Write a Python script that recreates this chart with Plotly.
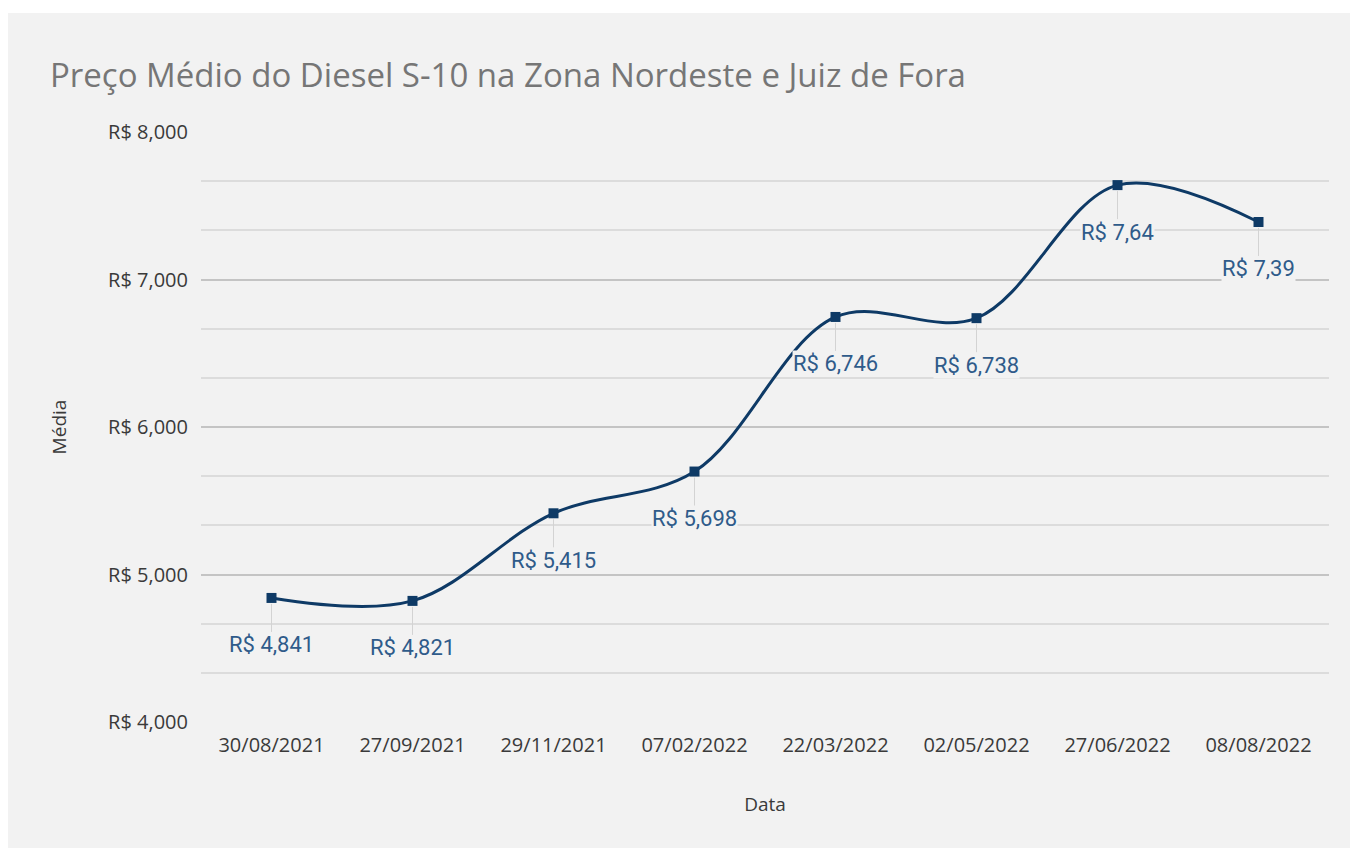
import plotly.graph_objects as go

DATES = ["30/08/2021", "27/09/2021", "29/11/2021", "07/02/2022",
         "22/03/2022", "02/05/2022", "27/06/2022", "08/08/2022"]
PRICES = [4.841, 4.821, 5.415, 5.698, 6.746, 6.738, 7.64, 7.39]
Y_TICKS = [4, 5, 6, 7, 8]

LINE_COLOR = "#0e3a66"
LABEL_COLOR = "#2f5b8a"
PANEL_BG = "#f2f2f2"
TEXT_COLOR = "#3a3a3a"

W, H = 1342, 840
L, R, T, B = 193, 21, 124, 126


def price_label(v):
    s = f"{v:.3f}".rstrip("0").replace(".", ",")
    return f"R$ {s}"


fig = go.Figure()
fig.add_trace(go.Scatter(
    x=DATES, y=PRICES,
    mode="lines+markers",
    line=dict(color=LINE_COLOR, width=3, shape="spline", smoothing=1),
    marker=dict(symbol="square", size=10, color=LINE_COLOR),
    showlegend=False,
))

for d, v in zip(DATES, PRICES):
    fig.add_annotation(
        x=d, y=v, text=price_label(v),
        showarrow=True, arrowhead=0, arrowwidth=1, arrowcolor="#d3d3d3",
        ax=0, ay=47, standoff=6,
        bgcolor=PANEL_BG, borderpad=0,
        font=dict(family="Roboto", size=22, color=LABEL_COLOR),
    )

# gray panel, leaving a thin white strip on top
pw, ph = W - L - R, H - T - B
fig.add_shape(
    type="rect", xref="paper", yref="paper", layer="below",
    x0=-L / pw, x1=(W - L) / pw,
    y0=-B / ph, y1=(H - B - 5) / ph,
    fillcolor=PANEL_BG, line=dict(width=0),
)

fig.update_layout(
    width=W, height=H,
    margin=dict(l=L, r=R, t=T, b=B),
    paper_bgcolor="white",
    plot_bgcolor="rgba(0,0,0,0)",
    title=dict(
        text="Preço Médio do Diesel S-10 na Zona Nordeste e Juiz de Fora",
        x=42 / W, xanchor="left", xref="container",
        y=1 - 67 / H, yanchor="middle", yref="container",
        font=dict(family="Open Sans", size=33, color="#767676"),
    ),
    font=dict(family="Open Sans", color=TEXT_COLOR),
)

fig.update_xaxes(
    type="category", range=[-0.5, len(DATES) - 0.5],
    showgrid=False, showline=False, zeroline=False,
    ticks="", ticklabelstandoff=9,
    tickfont=dict(size=20, color=TEXT_COLOR),
    title=dict(text="Data", font=dict(size=19, color=TEXT_COLOR), standoff=40),
)

fig.update_yaxes(
    range=[4, 8],
    tickvals=Y_TICKS,
    ticktext=[f"R$ {t},000" for t in Y_TICKS],
    showgrid=True, gridcolor="#c4c4c4", gridwidth=1.5,
    zeroline=False, showline=False, ticks="",
    ticklabelstandoff=12,
    tickfont=dict(size=20, color=TEXT_COLOR),
    minor=dict(dtick=1 / 3, tick0=4, showgrid=True, gridcolor="#dcdcdc", gridwidth=1.5),
    title=dict(text="Média", font=dict(size=19, color=TEXT_COLOR), standoff=36),
)

fig.write_html("out.html")
